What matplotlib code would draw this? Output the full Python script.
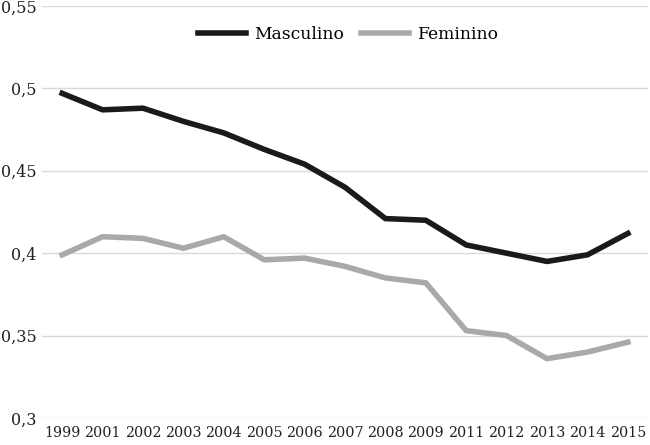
import numpy as np
import matplotlib
matplotlib.use("Agg")
import matplotlib.pyplot as plt
from matplotlib.ticker import FuncFormatter

anos = ['1999', '2001', '2002', '2003', '2004', '2005', '2006', '2007',
        '2008', '2009', '2011', '2012', '2013', '2014', '2015']
masculino = [0.497, 0.487, 0.488, 0.480, 0.473, 0.463, 0.454, 0.440,
             0.421, 0.420, 0.405, 0.400, 0.395, 0.399, 0.412]
feminino = [0.399, 0.410, 0.409, 0.403, 0.410, 0.396, 0.397, 0.392,
            0.385, 0.382, 0.353, 0.350, 0.336, 0.340, 0.346]
yticks = [0.3, 0.35, 0.4, 0.45, 0.5, 0.55]

plt.rcParams['font.family'] = ['DejaVu Serif']

fig = plt.figure(figsize=(6.5, 4.45), dpi=100)
ax = fig.add_axes([0.0646, 0.0607, 0.9324, 0.9258])

x = np.arange(len(anos))
ax.plot(x, masculino, color='#1a1a1a', lw=4, label='Masculino', solid_joinstyle='round')
ax.plot(x, feminino, color='#a9a9a9', lw=4, label='Feminino', solid_joinstyle='round')

ax.set_xlim(-0.5, len(anos) - 0.5)
ax.set_ylim(0.3, 0.55)
ax.set_yticks(yticks)
ax.yaxis.set_major_formatter(FuncFormatter(lambda v, p: ('%g' % v).replace('.', ',')))
ax.set_xticks(x)
ax.set_xticklabels(anos)
ax.tick_params(axis='both', length=0, colors='#222222')
ax.tick_params(axis='y', pad=4, labelsize=11.5)
ax.tick_params(axis='x', pad=6, labelsize=10.3)
ax.grid(axis='y', color='#d9d9d9', lw=1)
ax.set_axisbelow(True)
for s in ax.spines.values():
    s.set_visible(False)

ax.legend(loc='center', bbox_to_anchor=(0.505, 0.93), ncol=2, frameon=False,
          fontsize=12.3, handlelength=2.8, columnspacing=1.0, handletextpad=0.5)

fig.savefig('out.png', dpi=100)
